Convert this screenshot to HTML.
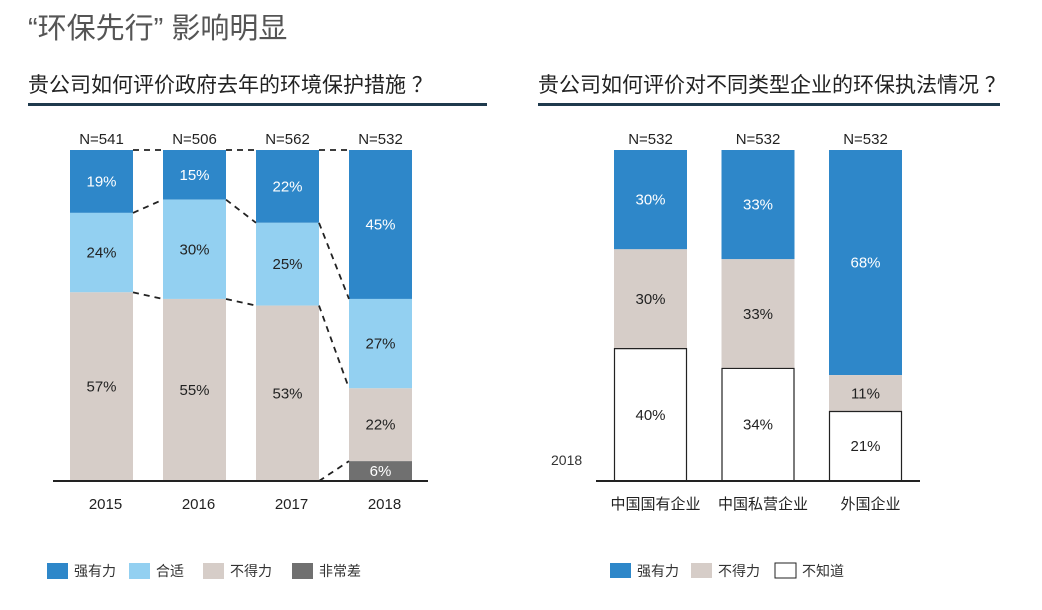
<!DOCTYPE html>
<html><head><meta charset="utf-8">
<style>
body{margin:0;background:#fff;width:1042px;height:605px;overflow:hidden;font-family:"Liberation Sans","Noto Sans CJK SC",sans-serif;}
svg text{font-family:"Liberation Sans","Noto Sans CJK SC",sans-serif;}
svg text.n{font-family:"Liberation Sans Narrow","Liberation Sans","Noto Sans CJK SC",sans-serif;}
</style></head>
<body>
<svg id="c" width="1042" height="605">
<text x="28" y="38" font-size="29" fill="#555">“环保先行” 影响明显</text>
<text x="28" y="92" font-size="21" fill="#222">贵公司如何评价政府去年的环境保护措施 ？</text>
<rect x="28" y="103" width="459" height="3" fill="#1f3a4d"/>
<text x="538" y="92" font-size="21" fill="#222">贵公司如何评价对不同类型企业的环保执法情况 ？</text>
<rect x="538" y="103" width="462" height="3" fill="#1f3a4d"/>
<text class="n" x="551" y="465" font-size="14" fill="#333">2018</text>
<g id="L"></g><g id="R"></g>
</svg>
<script>
// Left chart data
const years = ["2015","2016","2017","2018"];
const nLeft = ["N=541","N=506","N=562","N=532"];
const strong = [19,15,22,45];
const fit = [24,30,25,27];
const bad = [57,55,53,22];
const poor = [0,0,0,6];
const leftCats = ["强有力","合适","不得力","非常差"];
// Right chart data
const types = ["中国国有企业","中国私营企业","外国企业"];
const nRight = ["N=532","N=532","N=532"];
const rStrong = [30,33,68];
const rBad = [30,33,11];
const rUnknown = [40,34,21];
const rightCats = ["强有力","不得力","不知道"];

const NS="http://www.w3.org/2000/svg";
function mk(p,tag,a,txt){const e=document.createElementNS(NS,tag);for(const k in a)e.setAttribute(k,a[k]);if(txt!==undefined)e.textContent=txt;p.appendChild(e);return e;}
const top0=150,base=481,H=base-top0;
const y=v=>top0+v/100*H;

// LEFT
const L=document.getElementById('L');
const lx=i=>70+i*93, bw=63;
const lcols=["#2e87c9","#93d0f1","#d6cdc8","#707070"];
const ltxt=["#fff","#222","#222","#fff"];
const series=[strong,fit,bad,poor];
years.forEach((yr,i)=>{
  let cum=0;
  series.forEach((s,k)=>{
    const v=s[i]; if(!v) return;
    const r=mk(L,'rect',{x:lx(i),y:y(cum),width:bw,height:y(cum+v)-y(cum),fill:lcols[k]});
    
    
    const t=mk(L,'text',{class:'n',x:lx(i)+bw/2,y:(y(cum)+y(cum+v))/2+5,'font-size':15,fill:ltxt[k],'text-anchor':'middle'},v+'%');
    
    
    cum+=v;
  });
  const n=mk(L,'text',{class:'n',x:lx(i)+bw/2,y:144,'font-size':15,fill:'#222','text-anchor':'middle'},nLeft[i]);
  
  
  const xl=mk(L,'text',{x:lx(i)+bw/2+4,y:509,'font-size':15,fill:'#222','text-anchor':'middle'},yr);
  
  
});
for(let i=0;i<years.length-1;i++){
  const b1=[0,strong[i],strong[i]+fit[i],strong[i]+fit[i]+bad[i]];
  const b2=[0,strong[i+1],strong[i+1]+fit[i+1],strong[i+1]+fit[i+1]+bad[i+1]];
  for(let k=0;k<4;k++){
    if(b1[k]>=100&&b2[k]>=100) continue;
    const d=mk(L,'line',{x1:lx(i)+bw,y1:y(b1[k]),x2:lx(i+1),y2:y(b2[k]),stroke:'#222','stroke-width':1.8,'stroke-dasharray':'6,5'});
    
    
  }
}
const ax=mk(L,'line',{x1:53,y1:base,x2:428,y2:base,stroke:'#222','stroke-width':2});


const lLegX=[47,129,203,292];
leftCats.forEach((c,k)=>{
  const r=mk(L,'rect',{x:lLegX[k],y:563,width:21,height:16,fill:lcols[k]});
  
  
  const t=mk(L,'text',{x:lLegX[k]+27,y:576,'font-size':14,fill:'#333'},c);
  
  
});

// RIGHT
const R=document.getElementById('R');
const rx=i=>614+i*107.5, rw=73;
const rcols=["#2e87c9","#d6cdc8","#fff"];
const rtxt=["#fff","#222","#222"];
const rseries=[rStrong,rBad,rUnknown];
types.forEach((tp,i)=>{
  let cum=0;
  rseries.forEach((s,k)=>{
    const v=s[i];
    const r=mk(R,'rect',{x:rx(i),y:y(cum),width:rw,height:y(cum+v)-y(cum),fill:rcols[k]});
    
    
    if(k==2){
      const o=mk(R,'path',{d:`M${rx(i)+0.5},${base} V${y(cum)} H${rx(i)+rw-0.5} V${base}`,fill:'none',stroke:'#222','stroke-width':1.2});
      
      
    }
    const t=mk(R,'text',{class:'n',x:rx(i)+rw/2,y:(y(cum)+y(cum+v))/2+5,'font-size':15,fill:rtxt[k],'text-anchor':'middle'},v+'%');
    
    
    cum+=v;
  });
  const n=mk(R,'text',{class:'n',x:rx(i)+rw/2,y:144,'font-size':15,fill:'#222','text-anchor':'middle'},nRight[i]);
  
  
  const xl=mk(R,'text',{x:rx(i)+rw/2+5,y:509,'font-size':15,fill:'#222','text-anchor':'middle'},tp);
  
  
});
const ax2=mk(R,'line',{x1:596,y1:base,x2:920,y2:base,stroke:'#222','stroke-width':2});


const rLegX=[610,691,775];
rightCats.forEach((c,k)=>{
  const r=mk(R,'rect',{x:rLegX[k],y:563,width:21,height:15,fill:rcols[k],stroke:k==2?'#222':'none','stroke-width':1});
  
  
  const t=mk(R,'text',{x:rLegX[k]+27,y:576,'font-size':14,fill:'#333'},c);
  
  
});
</script>
</body></html>
